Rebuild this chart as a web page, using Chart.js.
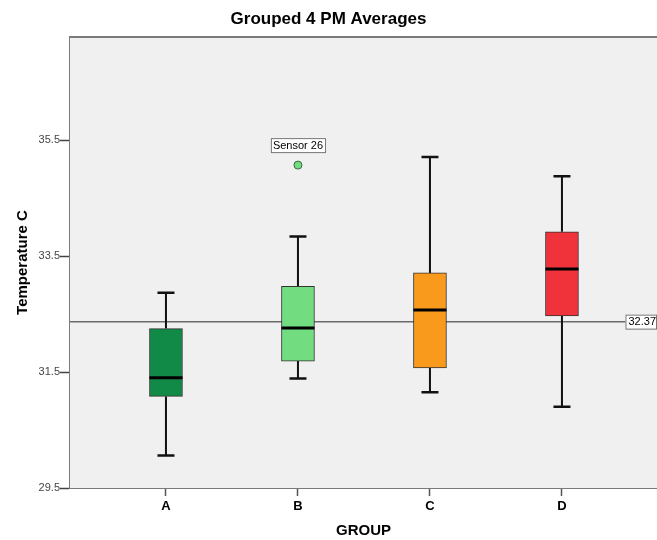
<!DOCTYPE html>
<html>
<head>
<meta charset="utf-8">
<script src="https://cdn.jsdelivr.net/npm/chart.js@4"></script>
<style>
html,body{margin:0;padding:0;background:#ffffff;}
#wrap{width:657px;height:540px;}
</style>
</head>
<body>
<div id="wrap"><canvas id="c" width="657" height="540"></canvas></div>
<script>
// ---- data ----
const groups = ["A", "B", "C", "D"];
const whiskerLow  = [30.06, 31.39, 31.15, 30.90];
const q1          = [31.08, 31.69, 31.57, 32.47];
const median      = [31.40, 32.26, 32.57, 33.28];
const q3          = [32.25, 32.98, 33.21, 33.92];
const whiskerHigh = [32.87, 33.84, 35.21, 34.88];
const outlierGroup = [1];
const outlierValue = [35.07];
const outlierLabel = ["Sensor 26"];
const referenceValue = 32.37;
const yTicks = [29.5, 31.5, 33.5, 35.5];
const boxColors = ["#128a47", "#72dd80", "#f99a1c", "#f0333b"];

const FONT = "'Liberation Sans', Arial, sans-serif";

const boxData = groups.map((g, i) => ({x: i, y: [q1[i], q3[i]]}));
const outData = outlierGroup.map((g, i) => ({x: g, y: outlierValue[i]}));

const boxPlugin = {
  id: 'boxExtras',
  beforeDatasetsDraw(chart) {
    const {ctx, chartArea: a, scales: {x, y}} = chart;
    ctx.save();
    ctx.fillStyle = '#f0f0f0';
    ctx.fillRect(a.left, a.top, a.right - a.left, a.bottom - a.top);
    ctx.strokeStyle = '#7a7a7a';
    ctx.lineWidth = 2;
    ctx.beginPath();
    ctx.moveTo(a.left, a.top);
    ctx.lineTo(a.right, a.top);
    ctx.stroke();
    const ry = y.getPixelForValue(referenceValue);
    ctx.strokeStyle = '#6b6b6b';
    ctx.lineWidth = 1.5;
    ctx.beginPath();
    ctx.moveTo(a.left, ry);
    ctx.lineTo(a.right, ry);
    ctx.stroke();
    ctx.strokeStyle = '#111';
    groups.forEach((g, i) => {
      const cx = x.getPixelForValue(i);
      const yl = y.getPixelForValue(whiskerLow[i]);
      const yq1 = y.getPixelForValue(q1[i]);
      const yq3 = y.getPixelForValue(q3[i]);
      const yh = y.getPixelForValue(whiskerHigh[i]);
      ctx.lineWidth = 2;
      ctx.beginPath();
      ctx.moveTo(cx, yl); ctx.lineTo(cx, yq1);
      ctx.moveTo(cx, yq3); ctx.lineTo(cx, yh);
      ctx.stroke();
      ctx.lineWidth = 2.5;
      ctx.beginPath();
      ctx.moveTo(cx - 8.5, yl); ctx.lineTo(cx + 8.5, yl);
      ctx.moveTo(cx - 8.5, yh); ctx.lineTo(cx + 8.5, yh);
      ctx.stroke();
    });
    ctx.restore();
  },
  afterDatasetsDraw(chart) {
    const {ctx, chartArea: a, scales: {x, y}} = chart;
    ctx.save();
    ctx.strokeStyle = '#000';
    ctx.lineWidth = 3;
    groups.forEach((g, i) => {
      const cx = x.getPixelForValue(i);
      const ym = y.getPixelForValue(median[i]);
      ctx.beginPath();
      ctx.moveTo(cx - 16.5, ym); ctx.lineTo(cx + 16.5, ym);
      ctx.stroke();
    });
    ctx.font = "11px " + FONT;
    ctx.textBaseline = 'middle';
    ctx.textAlign = 'center';
    outlierGroup.forEach((g, i) => {
      const cx = x.getPixelForValue(g);
      const oy = y.getPixelForValue(outlierValue[i]);
      const w = ctx.measureText(outlierLabel[i]).width + 4;
      const ly = oy - 20;
      ctx.fillStyle = '#fff';
      ctx.fillRect(cx - w / 2, ly - 7, w, 14);
      ctx.strokeStyle = '#777';
      ctx.lineWidth = 1;
      ctx.strokeRect(cx - w / 2 + 0.5, ly - 7 + 0.5, w, 14);
      ctx.fillStyle = '#000';
      ctx.fillText(outlierLabel[i], cx, ly + 0.5);
    });
    const ry = y.getPixelForValue(referenceValue);
    const txt = referenceValue.toFixed(2);
    const tw = ctx.measureText(txt).width + 3;
    ctx.fillStyle = '#fff';
    ctx.fillRect(a.right - tw - 1, ry - 7, tw, 14);
    ctx.strokeStyle = '#777';
    ctx.lineWidth = 1;
    ctx.strokeRect(a.right - tw - 0.5, ry - 6.5, tw, 14);
    ctx.fillStyle = '#000';
    ctx.textAlign = 'right';
    ctx.fillText(txt, a.right - 1, ry + 0.5);
    ctx.restore();
  }
};

new Chart(document.getElementById('c'), {
  type: 'bar',
  data: {
    datasets: [
      {
        type: 'bar',
        data: boxData,
        backgroundColor: boxColors,
        borderColor: '#333',
        borderWidth: 1,
        borderSkipped: false,
        barThickness: 33,
        order: 2
      },
      {
        type: 'scatter',
        data: outData,
        pointRadius: 4,
        pointBackgroundColor: boxColors[1],
        pointBorderColor: '#3a6b40',
        pointBorderWidth: 1,
        order: 1
      }
    ]
  },
  plugins: [boxPlugin],
  options: {
    responsive: false,
    animation: false,
    layout: {autoPadding: false, padding: {left: 0, right: 0, top: 0, bottom: 0}},
    plugins: {
      legend: {display: false},
      tooltip: {enabled: false},
      title: {
        display: true,
        text: 'Grouped 4 PM Averages',
        color: '#000',
        font: {family: FONT, size: 17, weight: 'bold'},
        padding: {top: 9, bottom: 7.6}
      }
    },
    scales: {
      x: {
        type: 'linear',
        min: -0.727,
        max: 3.72,
        offset: false,
        afterBuildTicks: s => { s.ticks = groups.map((g, i) => ({value: i})); },
        afterFit: s => { s.height = 52; },
        ticks: {
          callback: (v) => groups[v],
          color: '#000',
          font: {family: FONT, size: 13, weight: 'bold'},
          padding: 3,
          autoSkip: false,
          maxRotation: 0
        },
        grid: {display: true, offset: false, drawOnChartArea: false, tickLength: 8, tickColor: '#555', tickWidth: 1.5},
        border: {display: true, color: '#7a7a7a', width: 2},
        title: {
          display: true,
          text: 'GROUP',
          color: '#000',
          font: {family: FONT, size: 15, weight: 'bold'},
          padding: {top: 0, bottom: 0}
        }
      },
      y: {
        type: 'linear',
        min: 29.5,
        max: 37.28,
        afterBuildTicks: s => { s.ticks = yTicks.map(v => ({value: v})); },
        afterFit: s => { s.width = 70; },
        ticks: {
          callback: v => v.toFixed(1),
          color: '#444',
          font: {family: FONT, size: 11},
          padding: 0
        },
        grid: {display: true, drawOnChartArea: false, tickLength: 10, tickColor: '#444', tickWidth: 1.5},
        border: {display: true, color: '#7a7a7a', width: 2},
        title: {
          display: true,
          text: 'Temperature C',
          color: '#000',
          font: {family: FONT, size: 15, weight: 'bold'},
          padding: {top: 14, bottom: 0}
        }
      }
    }
  }
});
</script>
</body>
</html>
